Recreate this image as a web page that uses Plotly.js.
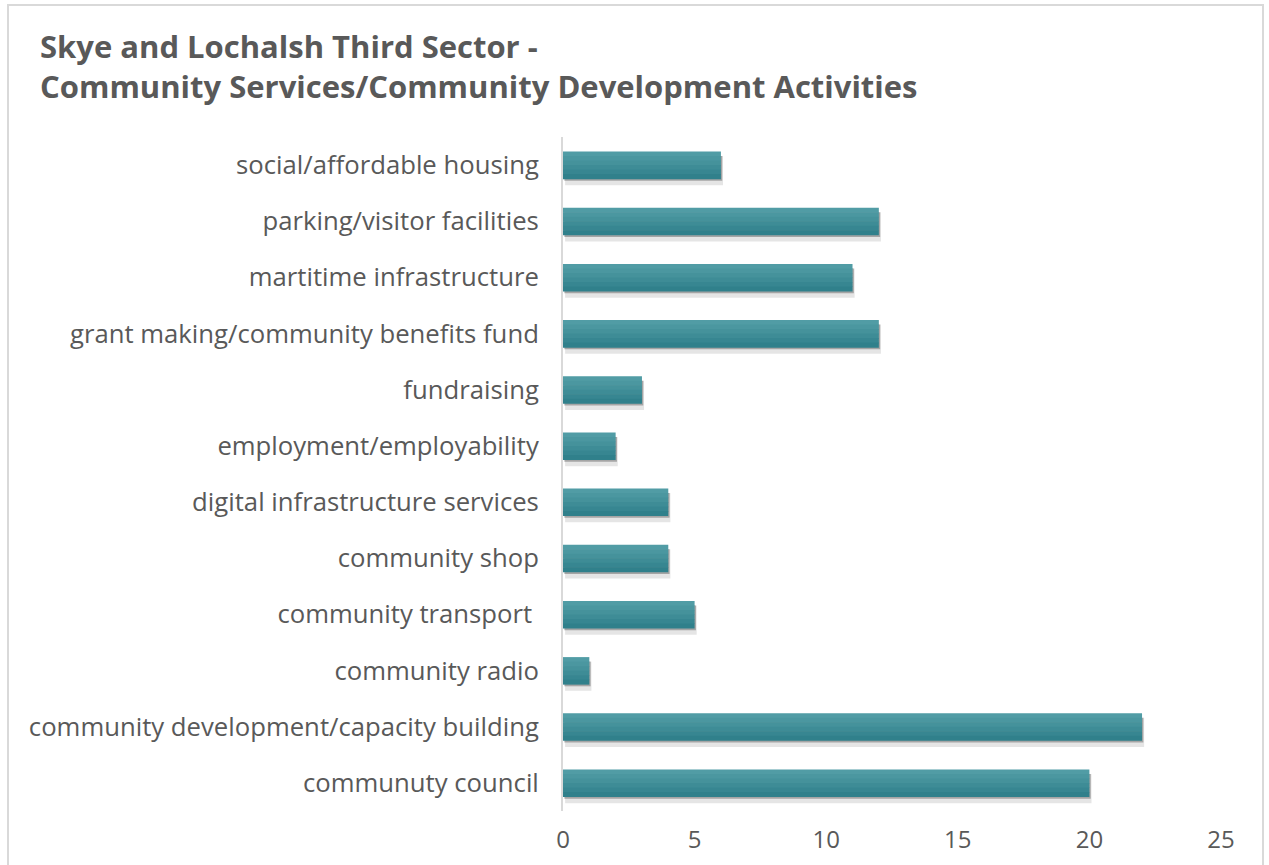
<!DOCTYPE html>
<html>
<head>
<meta charset="utf-8">
<script src="https://cdn.plot.ly/plotly-3.0.1.min.js"></script>
<style>
html,body{margin:0;padding:0;background:#fff;}
#chart{width:1269px;height:865px;}
</style>
</head>
<body>
<div id="chart"></div>
<script>
const categories = [
  "social/affordable housing",
  "parking/visitor facilities",
  "martitime infrastructure",
  "grant making/community benefits fund",
  "fundraising",
  "employment/employability",
  "digital infrastructure services",
  "community shop",
  "community transport ",
  "community radio",
  "community development/capacity building",
  "communuty council"
];
const counts = [6, 12, 11, 12, 3, 2, 4, 4, 5, 1, 22, 20];
const xTicks = [0, 5, 10, 15, 20, 25];
const titleText = "Skye and Lochalsh Third Sector -<br>Community Services/Community Development Activities";

const W = 1269, H = 865;
const L = 563, R = 48, T = 137, B = 54;
const pw = W - L - R, ph = H - T - B;
const px = v => (v - L) / pw;
const py = v => (H - B - v) / ph;

const font = "'Century Gothic', 'Open Sans', 'DejaVu Sans', sans-serif";

// shadow layers
const traces = [
  {type: 'bar', orientation: 'h', y: categories, x: counts, base: 0.08,
   width: 0.52, offset: -0.16, marker: {color: 'rgba(0,0,0,0.10)'},
   hoverinfo: 'skip', showlegend: false},
  {type: 'bar', orientation: 'h', y: categories, x: counts, base: 0.05,
   width: 0.44, offset: -0.16, marker: {color: 'rgba(0,0,0,0.28)'},
   hoverinfo: 'skip', showlegend: false}
];
// gradient strips (top light -> bottom dark)
const stripColors = ['#519ca5', '#4b97a0', '#45929b', '#3e8c96', '#378691', '#30808b'];
const half = 0.24, sw = 0.48 / stripColors.length;
stripColors.forEach((c, i) => {
  traces.push({type: 'bar', orientation: 'h', y: categories, x: counts,
    width: sw + 0.01, offset: -half + i * sw,
    marker: {color: c, line: {width: 0}}, showlegend: false});
});

const layout = {
  width: W, height: H,
  margin: {l: L, r: R, t: T, b: B, pad: 0},
  paper_bgcolor: '#ffffff', plot_bgcolor: '#ffffff',
  barmode: 'overlay',
  font: {family: font, color: '#595959'},
  xaxis: {
    range: [0, 25], tickvals: xTicks, ticktext: xTicks.map(String),
    showgrid: false, zeroline: false, showline: false, ticks: '',
    tickfont: {family: font, size: 24, color: '#595959'},
    ticklabelstandoff: 12, fixedrange: true
  },
  yaxis: {
    autorange: 'reversed', type: 'category',
    showgrid: false, zeroline: false,
    showline: true, linecolor: '#d9d9d9', linewidth: 2,
    ticks: '', tickfont: {family: font, size: 25.7, color: '#595959'},
    ticklabelstandoff: 17, fixedrange: true
  },
  annotations: [
    {text: titleText, xref: 'paper', yref: 'paper',
     x: px(38), y: py(23), xanchor: 'left', yanchor: 'top', align: 'left',
     showarrow: false,
     font: {family: font, size: 31, color: '#595959', weight: 'bold'}}
  ],
  shapes: [
    {type: 'path', xref: 'paper', yref: 'paper',
     path: `M ${px(8)} ${py(880)} L ${px(8)} ${py(5)} L ${px(1263)} ${py(5)} L ${px(1263)} ${py(880)}`,
     line: {color: '#d9d9d9', width: 2}, layer: 'below'}
  ]
};

Plotly.newPlot('chart', traces, layout, {displayModeBar: false, staticPlot: true});
</script>
</body>
</html>
